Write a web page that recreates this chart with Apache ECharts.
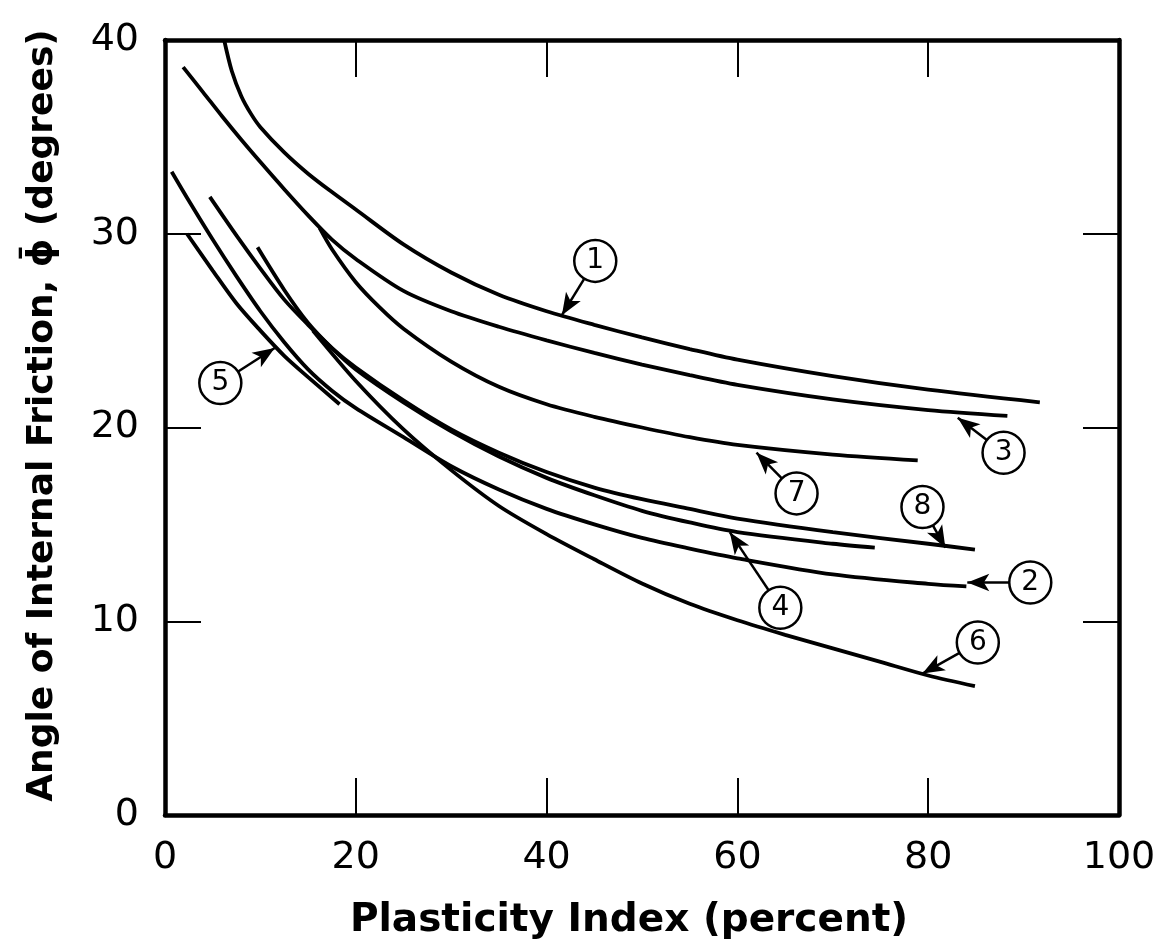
<!DOCTYPE html>
<html><head><meta charset="utf-8">
<script src="https://cdn.jsdelivr.net/npm/echarts@6/dist/echarts.min.js"></script>
<style>html,body{margin:0;padding:0;background:#fff}#c{width:1160px;height:940px}</style>
</head><body><div id="c"></div>
<script>
// Curves: [plasticity index (%), angle of internal friction (deg)]
const curve1 = [[6.2,40],[7,38.4],[8,37.1],[9,36.2],[10,35.5],[12.5,34.2],[15,33.1],[17.5,32.15],[20,31.25],[25,29.45],[30,28.0],[35,26.85],[40,26.0],[45,25.3],[50,24.65],[55,24.05],[60,23.5],[70,22.65],[80,21.95],[91.7,21.3]];
const curve2 = [[0.7,33.2],[2.5,31.7],[5,29.7],[7.5,27.8],[10,26.0],[12.5,24.4],[15,23.0],[17.5,21.9],[20,21.0],[25,19.5],[30,18.0],[35,16.8],[40,15.8],[45,15.0],[50,14.3],[55,13.75],[60,13.25],[70,12.42],[80,11.93],[84,11.8]];
const curve3 = [[1.9,38.6],[4,37.3],[6,36.05],[8,34.85],[10,33.7],[12.5,32.3],[15,30.95],[17.5,29.7],[20,28.7],[25,27.05],[30,26.0],[35,25.2],[40,24.5],[45,23.85],[50,23.25],[55,22.7],[60,22.2],[70,21.45],[80,20.9],[88.3,20.6]];
const curve4 = [[9.7,29.3],[12.5,27.1],[15,25.4],[17.5,24.1],[20,23.0],[25,21.3],[30,19.8],[35,18.5],[40,17.4],[45,16.5],[50,15.7],[55,15.1],[60,14.6],[70,14.0],[74.4,13.8]];
const curve5 = [[2.3,30.0],[5,28.1],[7.5,26.4],[10,25.0],[12.5,23.7],[15,22.6],[18.3,21.2]];
const curve6 = [[15.5,25.0],[20,22.4],[25,19.9],[30,17.8],[35,15.95],[40,14.5],[45,13.2],[50,11.95],[55,10.9],[60,10.05],[65,9.3],[70,8.6],[75,7.9],[80,7.2],[84.9,6.65]];
const curve7 = [[16.2,30.3],[17.5,29.2],[20,27.5],[22.5,26.2],[25,25.1],[30,23.4],[35,22.1],[40,21.2],[45,20.55],[50,20.0],[55,19.5],[60,19.1],[70,18.6],[78.9,18.3]];
const curve8 = [[4.7,31.9],[7.5,29.9],[10,28.2],[12.5,26.6],[15,25.3],[17.5,24.1],[20,23.1],[25,21.4],[30,19.9],[35,18.7],[40,17.7],[45,16.9],[50,16.3],[55,15.8],[60,15.3],[70,14.6],[80,14.0],[84.9,13.7]];
const curves = [curve1, curve2, curve3, curve4, curve5, curve6, curve7, curve8];
const curveNames = ['1','2','3','4','5','6','7','8'];
// annotation bubbles (data coords) and arrow tips (data coords)
const bubblePos = [[45.1,28.6],[90.7,12.0],[87.9,18.7],[64.5,10.7],[5.8,22.3],[85.2,8.9],[66.2,16.6],[79.4,15.9]];
const arrowTip  = [[41.6,25.8],[84.1,12.0],[83.1,20.5],[59.2,14.6],[11.5,24.1],[79.4,7.3],[62.0,18.7],[81.8,13.8]];
const xTicks = [0,20,40,60,80,100];
const yTicks = [0,10,20,30,40];

const FONT = 'DejaVu Sans';
const chart = echarts.init(document.getElementById('c'), null, {renderer:'canvas'});
const axisLine = {show:true, onZero:false, lineStyle:{color:'#000', width:4.5}};
const series = curves.map((d,i)=>({
  type:'line', name:curveNames[i], data:d, smooth:0.3, showSymbol:false, symbol:'none',
  lineStyle:{color:'#000', width:3.8}, z:2, silent:true
}));
series.push({
  type:'line', data:[], z:3, silent:true,
  markLine:{silent:true, symbol:['none','arrow'], symbolSize:[13,22], label:{show:false},
    lineStyle:{color:'#000', width:2.5, type:'solid', opacity:1},
    data: bubblePos.map((p,i)=>[{coord:p},{coord:arrowTip[i]}])}
});
series.push({
  type:'scatter', z:5, silent:true, symbol:'circle', symbolSize:42,
  data: bubblePos.map((p,i)=>({value:p, name:curveNames[i]})),
  itemStyle:{color:'#fff', borderColor:'#000', borderWidth:2.5, opacity:1},
  label:{show:true, position:'inside', formatter:p=>p.name, color:'#000', fontSize:28, fontFamily:FONT}
});
chart.setOption({
  animation:false,
  backgroundColor:'#fff',
  grid:{left:165, right:41, top:40, bottom:125, outerBoundsMode:'none', containLabel:false},
  xAxis:[{
    type:'value', min:0, max:100, interval:20, position:'bottom',
    axisLine, splitLine:{show:false},
    axisTick:{show:true, inside:true, length:37, lineStyle:{color:'#000', width:2}},
    axisLabel:{color:'#000', fontSize:38, fontFamily:FONT, margin:24, formatter:v=>xTicks.includes(v)?String(v):''},
    name:'Plasticity Index (percent)', nameLocation:'middle', nameGap:86,
    nameTextStyle:{color:'#000', fontSize:39, fontFamily:FONT, fontWeight:'bold', padding:[0,26,0,0]}
  },{
    type:'value', min:0, max:100, interval:20, position:'top',
    axisLine, splitLine:{show:false}, axisLabel:{show:false},
    axisTick:{show:true, inside:true, length:37, lineStyle:{color:'#000', width:2}}
  }],
  yAxis:[{
    type:'value', min:0, max:40, interval:10, position:'left',
    axisLine, splitLine:{show:false},
    axisTick:{show:true, inside:true, length:36, lineStyle:{color:'#000', width:2}},
    axisLabel:{color:'#000', fontSize:38, fontFamily:FONT, margin:26, formatter:v=>yTicks.includes(v)?String(v):''},
    name:'Angle of Internal Friction, \u03D5\u0304 (degrees)', nameLocation:'middle', nameGap:104, nameRotate:90,
    nameTextStyle:{color:'#000', fontSize:36, fontFamily:FONT, fontWeight:'bold', padding:[0,0,0,24]}
  },{
    type:'value', min:0, max:40, interval:10, position:'right',
    axisLine, splitLine:{show:false}, axisLabel:{show:false},
    axisTick:{show:true, inside:true, length:36, lineStyle:{color:'#000', width:2}}
  }],
  series
});
</script></body></html>
